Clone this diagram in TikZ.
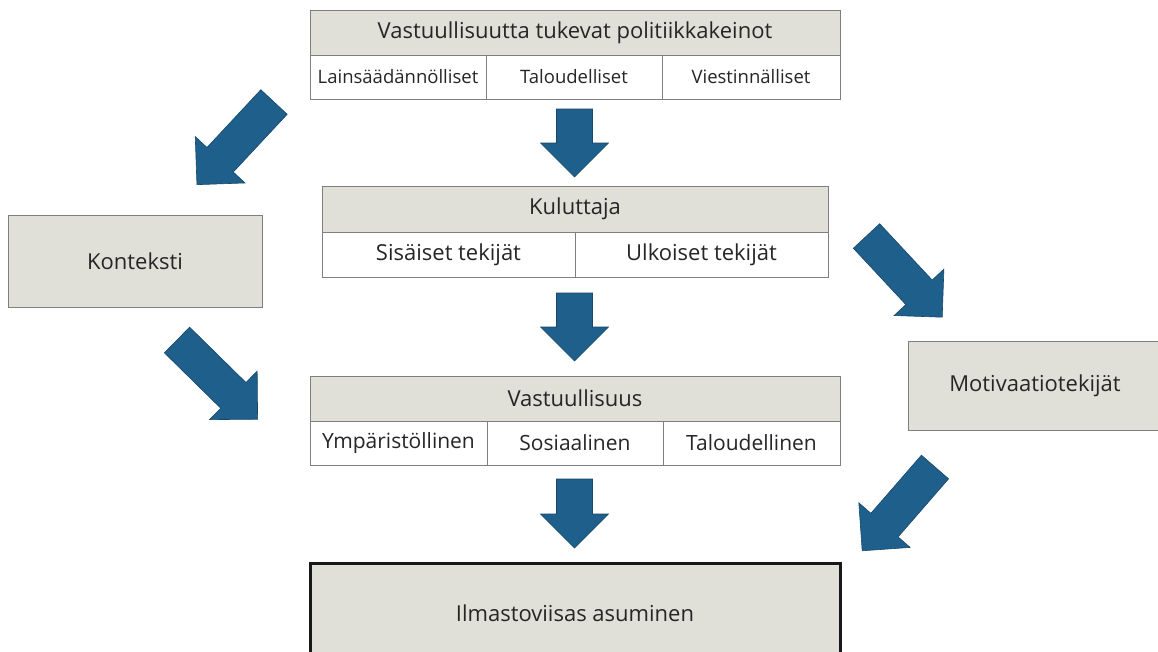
\documentclass[tikz,border=0pt]{standalone}
\usepackage{fontspec}
\setmainfont{Open Sans}
\definecolor{boxgray}{HTML}{E0DFD8}
\definecolor{bordergray}{HTML}{7F7F7F}
\definecolor{arrblue}{HTML}{1F5F8B}
\definecolor{arrdark}{HTML}{17476A}
\definecolor{txt}{HTML}{262626}
\tikzset{
  basebox/.style={draw=bordergray, line width=1pt, inner sep=0pt, outer sep=0pt,
    anchor=north west, text=txt, font=\fontsize{22}{26}\selectfont},
  hdr/.style={basebox, fill=boxgray},
  cell/.style={basebox, fill=white},
  smallcell/.style={cell, font=\fontsize{18.5}{22}\selectfont},
  midcell/.style={cell, font=\fontsize{21}{25}\selectfont},
  finalbox/.style={basebox, fill=boxgray, draw=black!90, line width=3pt},
  blockarr/.style={fill=arrblue, draw=arrdark, line width=0.6pt, line join=miter}
}
\newcommand\blockarrow[4]{%
  \draw[blockarr, shift={(#1,#2)}, rotate=#3]
    (0,-18) -- (#4-34,-18) -- (#4-34,-34) -- (#4,0) -- (#4-34,34) -- (#4-34,18) -- (0,18) -- cycle;}
\begin{document}
\begin{tikzpicture}[x=1pt, y=-1pt]
\useasboundingbox (0,0) rectangle (1158,651);
\clip (0,0) rectangle (1158,651);
% top box
\node[hdr, minimum width=530pt, minimum height=45pt] (pol) at (310,10) {Vastuullisuutta tukevat politiikkakeinot};
\node[smallcell, minimum width=176pt, minimum height=44pt] (lain) at (310,55) {Lainsäädännölliset};
\node[smallcell, minimum width=176pt, minimum height=44pt] (tal) at (486,55) {Taloudelliset};
\node[smallcell, minimum width=178pt, minimum height=44pt] (vie) at (662,55) {Viestinnälliset};
% consumer
\node[hdr, minimum width=506pt, minimum height=46pt] (kul) at (322,186) {Kuluttaja};
\node[cell, minimum width=253pt, minimum height=45pt] (sis) at (322,232) {Sisäiset tekijät};
\node[cell, minimum width=253pt, minimum height=45pt] (ulk) at (575,232) {Ulkoiset tekijät};
% responsibility
\node[hdr, minimum width=530pt, minimum height=45pt] (vas) at (310,376) {Vastuullisuus};
\node[midcell, minimum width=177pt, minimum height=44pt] (ymp) at (310,421) {Ympäristöllinen};
\node[midcell, minimum width=176pt, minimum height=44pt] (sos) at (487,421) {Sosiaalinen};
\node[midcell, minimum width=177pt, minimum height=44pt] (talo) at (663,421) {Taloudellinen};
% side boxes
\node[hdr, minimum width=254pt, minimum height=92pt] (kon) at (8,215) {Konteksti};
\node[hdr, minimum width=254pt, minimum height=89pt] (mot) at (908,341) {Motivaatiotekijät};
% final
\node[finalbox, minimum width=530pt, minimum height=100pt] (ilm) at (310,563) {Ilmastoviisas asuminen};
% arrows
\blockarrow{574.5}{109}{-90}{68}
\blockarrow{574.5}{293}{-90}{68}
\blockarrow{574.5}{479}{-90}{69}
\blockarrow{274}{102}{-133}{113}
\blockarrow{177}{340}{-44.5}{113}
\blockarrow{866.5}{236}{-47}{111}
\blockarrow{935}{467}{-131}{111}
\end{tikzpicture}
\end{document}
